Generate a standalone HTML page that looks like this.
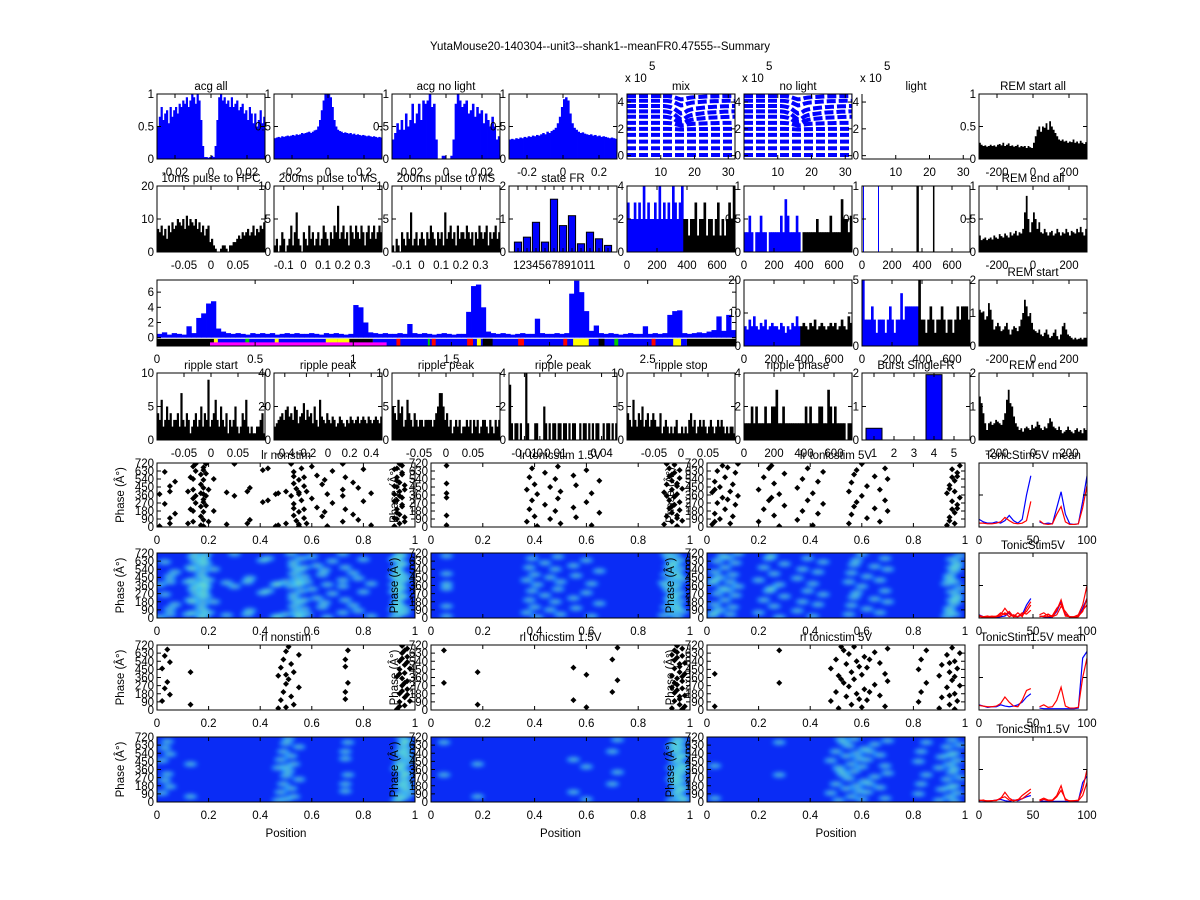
<!DOCTYPE html>
<html><head><meta charset="utf-8"><style>
html,body{margin:0;padding:0;background:#fff;}
svg{display:block;font-family:"Liberation Sans",sans-serif;font-size:11.5px;}
</style></head><body>
<svg id="fig" width="1200" height="900" viewBox="0 0 1200 900">
<defs>
<filter id="blur" x="-20%" y="-20%" width="140%" height="140%"><feGaussianBlur stdDeviation="2"/></filter>
</defs>
<rect x="0" y="0" width="1200" height="900" fill="#fff"/>
<text x="600" y="50" text-anchor="middle">YutaMouse20-140304--unit3--shank1--meanFR0.47555--Summary</text>
</svg>
<script>
// ---------- data ----------
const acgAll=[0.5,0.65,0.8,0.6,0.7,0.75,0.55,0.8,0.65,0.75,0.8,0.7,0.85,0.8,0.9,0.85,0.95,0.8,0.9,1,0.95,0.85,1,0.9,0.6,0.2,0.03,0.03,0.02,0.03,0.05,0.03,0.2,0.6,0.95,1,0.9,0.95,0.85,0.9,0.8,0.95,0.8,0.85,0.9,0.75,0.8,0.85,0.7,0.75,0.6,0.8,0.7,0.55,0.7,0.5,0.6,0.75,0.55,0.65];
const acgWide=[0.32,0.33,0.34,0.33,0.35,0.34,0.35,0.36,0.35,0.36,0.37,0.36,0.38,0.37,0.38,0.4,0.39,0.4,0.41,0.42,0.4,0.42,0.44,0.45,0.5,0.6,0.75,0.9,1,1,1,0.95,0.8,0.6,0.5,0.45,0.43,0.42,0.4,0.41,0.4,0.39,0.4,0.38,0.39,0.37,0.38,0.37,0.36,0.37,0.36,0.35,0.36,0.35,0.34,0.35,0.34,0.33,0.34,0.33];
const acgNoLight=[0.3,0.4,0.55,0.45,0.6,0.45,0.7,0.5,0.6,0.85,0.55,0.7,0.85,0.6,0.9,0.85,0.9,1,0.8,0.85,0.3,0,0,0.05,0.05,0,0,0.05,0.3,0.85,1,0.9,0.8,0.85,0.9,0.7,0.75,0.85,0.65,0.8,0.7,0.75,0.55,0.7,0.6,0.5,0.65,0.5,0.3,0.35];
const acgWideNoLight=[0.3,0.31,0.3,0.32,0.31,0.33,0.32,0.34,0.33,0.35,0.34,0.36,0.35,0.37,0.36,0.38,0.4,0.38,0.42,0.4,0.43,0.45,0.48,0.55,0.65,0.8,0.92,0.95,0.9,0.7,0.55,0.48,0.45,0.42,0.4,0.41,0.39,0.38,0.37,0.38,0.36,0.37,0.35,0.36,0.34,0.35,0.34,0.33,0.32,0.33,0.32,0.31];
const waveLevels=[4.45,4.1,3.7,3.3,2.9,2.45,2.0,1.55,1.05,0.55,0.05];
const waveDip=[0.25,0.35,0.55,0.6,0.5,0.2,0.05,0,0,0,0];
const waveShape=[0,0,0,0,0,0,0,0,0,0,0,0,0.05,0.15,0.35,0.7,1,0.9,0.6,0.45,0.35,0.3,0.25,0.2,0.15,0.12,0.1,0.08,0.05,0.03,0.02,0,0];
const pulse10=[7,6,8,5,7,4,8,6,9,7,8,10,9,8,10,7,11,8,10,9,8,10,7,9,6,8,5,7,8,3,4,2,1,0,0,1,2,2,1,0,2,2,3,3,4,5,4,6,5,6,7,5,6,8,5,7,6,8,7,9];
const pulse200a=[1,2,0,1,3,2,0,1,2,4,1,3,6,2,1,0,3,2,1,4,2,3,1,2,3,1,2,4,3,2,1,3,2,4,3,7,2,3,4,2,3,1,4,3,2,4,3,2,4,3,1,3,4,2,3,4,2,3,4,3];
const pulse200b=[1,0,2,1,0,3,2,1,3,2,6,1,2,3,1,2,3,2,1,3,2,4,3,2,1,3,2,3,1,6,2,3,4,2,3,1,4,2,3,3,2,4,3,2,3,1,3,2,4,3,2,3,4,1,3,2,3,4,2,3];
const stateFR=[0.3,0.45,0.9,0.3,1.6,0.8,1.1,0.25,0.6,0.4,0.2];
const frMix=[3,2,2,3,2,3,2,4,2,3,2,2,3,2,4,2,3,2,3,2,4,3,2,3,4,2,2,1,2,2,3,1,2,2,3,1,2,2,1,2,3,1,2,1,2,3,2,4];
const frNoLight=[0.3,0.3,0.55,0.3,0,0.3,0.3,0.55,0.3,0.3,0,0.3,0.3,0.3,0.3,0.3,0.55,0.3,0.8,0.55,0.3,0.3,0.3,0.55,0.3,0,0.3,0.3,0.3,0.3,0.3,0.3,0.5,0.3,0.3,0.3,0.3,0.3,0.55,0.3,0.3,0.3,0.3,0.8,0.5,0.5,0.3,0.55];
const lightBlueT=[10,110];
const lightBlackT=[368,374,478];
const remStartAll=[0.25,0.22,0.2,0.21,0.19,0.2,0.22,0.2,0.21,0.19,0.22,0.23,0.21,0.25,0.2,0.22,0.24,0.2,0.21,0.19,0.2,0.22,0.18,0.2,0.19,0.2,0.17,0.2,0.18,0.17,0.25,0.35,0.45,0.5,0.42,0.5,0.48,0.55,0.45,0.58,0.5,0.45,0.4,0.35,0.3,0.28,0.3,0.27,0.28,0.25,0.27,0.26,0.3,0.25,0.27,0.24,0.28,0.25,0.23,0.26];
const remEndAll=[0.25,0.18,0.2,0.22,0.18,0.2,0.22,0.19,0.25,0.22,0.2,0.27,0.24,0.22,0.28,0.25,0.22,0.3,0.25,0.28,0.32,0.25,0.3,0.28,0.35,0.6,0.85,0.5,0.3,0.45,0.6,0.5,0.35,0.45,0.3,0.28,0.35,0.3,0.25,0.3,0.32,0.25,0.28,0.35,0.3,0.25,0.3,0.28,0.35,0.3,0.25,0.32,0.3,0.28,0.35,0.3,0.38,0.3,0.25,0.35];
const remStart=[1.1,1.0,1.05,0.8,0.9,1.3,1.1,0.8,0.5,0.6,0.7,0.6,0.45,0.5,0.6,0.7,0.5,0.35,0.5,0.6,0.55,0.45,0.6,0.8,1.0,1.4,1.2,0.9,1.0,0.7,0.5,0.45,0.4,0.5,0.35,0.3,0.4,0.5,0.35,0.25,0.3,0.4,0.5,0.3,0.2,0.35,0.6,0.7,0.5,0.35,0.3,0.25,0.2,0.25,0.2,0.22,0.25,0.2,0.25,0.25];
const remEnd=[1.3,1.1,0.8,0.5,0.3,0.5,0.55,0.45,0.5,0.6,0.55,0.5,0.45,0.6,0.8,1.2,1.5,1.1,1.0,0.7,0.5,0.4,0.3,0.35,0.25,0.35,0.4,0.35,0.3,0.45,0.35,0.4,0.55,0.45,0.35,0.3,0.4,0.35,0.5,0.65,0.55,0.4,0.35,0.3,0.4,0.3,0.2,0.25,0.3,0.4,0.3,0.25,0.2,0.3,0.35,0.25,0.3,0.2,0.35,0.3];
const frTime=[0.5,0.7,0.4,0.6,0.5,0.4,1.5,0.6,2.6,3.2,4.5,4.8,1.2,0.8,0.6,0.5,0.6,0.5,0.4,0.6,0.5,0.6,0.5,0.6,0.4,0.5,0.6,0.5,0.6,0.5,0.5,0.6,0.5,0.4,0.6,0.5,0.6,0.5,0.4,0.5,4.3,4.0,2.0,0.7,0.6,0.5,0.6,0.5,0.5,0.6,0.5,1.8,0.6,0.5,0.6,0.5,0.4,0.5,0.6,0.5,0.4,0.5,0.5,3.4,6.8,7.0,4.0,0.8,0.6,0.5,0.6,0.5,0.4,0.5,0.6,0.5,0.5,2.5,0.6,0.5,0.5,0.6,0.5,0.6,5.8,7.5,6.0,3.5,0.9,1.6,0.6,0.5,0.6,0.5,0.4,0.5,0.6,0.5,0.5,1.5,0.5,0.6,0.5,0.6,3.0,3.5,3.6,0.6,0.5,0.6,0.7,0.6,0.8,1.0,2.8,0.9,3.0,1.0];
const stateSegStart=[0,0.3,0.88,1.1,2.7];
const stateSegEnd=[0.3,0.88,1.1,2.7,2.95];
const stateSegColor=['#000','#00f','#000','#00f','#000'];
const stateMarkT=[0.29,0.45,0.6,0.86,0.92,1.22,1.38,1.4,1.58,1.63,1.66,1.84,2.07,2.12,2.17,2.25,2.33,2.52,2.63];
const stateMarkW=[0.02,0.02,0.02,0.06,0.06,0.02,0.01,0.02,0.03,0.02,0.05,0.03,0.02,0.06,0.03,0.03,0.02,0.02,0.04];
const stateMarkColor=['#ff0','#0c0','#ff0','#ff0','#ff0','#f00','#0c0','#f00','#f00','#ff0','#000','#f00','#f00','#ff0','#ff0','#000','#0c0','#f00','#ff0'];
const frTime20=[6,5,8,6,9,6,5,7,6,8,5,6,7,6,6,5,7,6,4,6,5,7,6,9,6,6,7,6,5,7,6,8,5,6,7,6,5,6,7,6,7,5,6,8,6,5,9,7];
const frTime5=[5,2,2,2,3,2,1,2,2,2,1,2,3,2,1,2,2,4,2,3,3,3,3,3,3,5,2,2,1,2,3,2,1,2,2,3,2,1,2,2,1,2,3,2,3,3,3,2];
const rippleStart=[4,3,6,2,3,5,3,4,2,3,3,4,2,7,3,2,4,3,1,2,3,4,2,3,5,2,4,3,9,2,3,4,6,3,2,5,3,2,4,1,3,2,3,5,2,1,2,4,3,6,2,1,2,1,1,2,2,3,4,1];
const ripplePeakA=[8,10,12,14,16,12,18,20,14,16,12,20,18,10,14,16,22,12,18,14,16,10,20,12,8,24,14,12,10,16,12,10,14,12,8,10,14,12,10,8,12,10,14,12,10,12,14,10,12,14,12,10,14,12,10,12,14,12,10,14];
const ripplePeakB=[5,4,3,6,4,5,2,3,6,4,3,2,4,3,2,3,3,2,3,3,3,3,2,3,4,5,7,7,5,3,4,2,3,1,2,3,2,3,1,2,2,3,2,3,1,3,2,3,1,2,3,3,2,1,3,2,1,3,2,3];
const ripplePeakC=[3.3,1,0,1,1,0,1,0,0,4,1,0,0,0,1,1,0,0,0,2,1,0,1,0,1,1,0,1,1,0,1,1,0,1,0,1,1,0,0,1,0,1,1,0,1,0,1,0,1,1,0,0,1,0,1,1,0,1,0,1];
const rippleStop=[4,3,2,6,3,2,4,3,5,2,3,4,2,3,4,3,2,2,4,1,2,3,2,1,2,1,2,3,1,1,2,1,2,1,3,4,2,3,1,2,3,2,3,2,1,2,3,2,1,2,3,2,3,2,1,2,1,2,2,1];
const ripplePhase=[1,1,1,2,1,2,1,1,1,2,1,1,2,2,3,1,1,2,1,1,1,1,1,1,1,1,1,2,1,2,1,1,1,2,2,1,1,3,2,1,2,1,1,1,1,0,1,1];
const burstCats=[1,4];
const burstVals=[0.35,1.95];
// rasters: position and phase (0-360, drawn twice)
const lrNonX=[0.01,0.03,0.05,0.05,0.07,0.12,0.13,0.14,0.14,0.15,0.15,0.17,0.17,0.18,0.18,0.18,0.19,0.19,0.18,0.2,0.22,0.27,0.3,0.35,0.36,0.41,0.43,0.46,0.47,0.5,0.52,0.53,0.53,0.54,0.55,0.55,0.56,0.57,0.57,0.58,0.6,0.62,0.64,0.65,0.66,0.68,0.72,0.72,0.73,0.76,0.78,0.8,0.83,0.92,0.92,0.93,0.93,0.94,0.94,0.95,0.95,0.96,0.93,0.94,0.95,0.92,0.17,0.18,0.14,0.53,0.55,0.96,0.93];
const lrNonP=[10,260,100,40,150,40,200,60,320,270,350,120,20,280,80,170,350,240,10,60,180,30,350,40,80,280,300,10,20,40,350,260,130,70,170,10,300,200,100,40,320,220,120,170,10,270,60,350,200,140,80,290,20,10,100,200,300,40,140,250,330,60,160,350,230,290,230,310,180,210,30,110,90];
const lrT15X=[0.06,0.06,0.06,0.37,0.38,0.39,0.4,0.41,0.44,0.46,0.48,0.49,0.5,0.55,0.56,0.6,0.62,0.65,0.9,0.91,0.92,0.92,0.93,0.93,0.94,0.94,0.95,0.95,0.96,0.96,0.97,0.91,0.93,0.95];
const lrT15P=[20,130,330,60,200,300,120,10,250,90,180,320,40,220,110,280,20,160,30,120,210,300,60,160,250,340,10,100,190,280,70,350,230,130];
const lrT5X=[0.02,0.03,0.04,0.05,0.06,0.07,0.09,0.1,0.11,0.12,0.2,0.22,0.24,0.26,0.28,0.3,0.35,0.37,0.39,0.41,0.43,0.45,0.55,0.56,0.58,0.6,0.62,0.65,0.67,0.69,0.7,0.93,0.94,0.95,0.95,0.96,0.96,0.97,0.98,0.94,0.97,0.03,0.08,0.25,0.57];
const lrT5P=[30,150,270,90,330,200,40,120,250,350,60,200,300,130,10,240,80,180,300,20,150,260,40,140,280,350,100,210,60,300,180,20,110,200,290,40,160,250,330,70,210,60,310,330,230];
const rlNonX=[0.02,0.03,0.04,0.05,0.13,0.47,0.48,0.49,0.5,0.51,0.52,0.53,0.55,0.5,0.73,0.73,0.74,0.93,0.94,0.94,0.95,0.95,0.96,0.96,0.97,0.97,0.98,0.95,0.96,0.94,0.97];
const rlNonP=[100,240,310,170,60,20,110,200,290,340,150,60,250,30,120,200,300,10,90,180,270,350,50,140,230,320,100,210,300,40,170];
const rlT15X=[0.05,0.18,0.55,0.6,0.7,0.72,0.93,0.94,0.94,0.95,0.95,0.96,0.96,0.97,0.97,0.98,0.95,0.96,0.94,0.97,0.93,0.98];
const rlT15P=[300,60,110,30,200,330,20,100,190,280,350,60,150,240,320,40,220,120,300,10,250,160];
const rlT5X=[0.03,0.28,0.48,0.5,0.51,0.53,0.54,0.55,0.56,0.57,0.58,0.6,0.61,0.62,0.65,0.67,0.69,0.7,0.82,0.83,0.85,0.9,0.91,0.93,0.94,0.95,0.96,0.97,0.98,0.52,0.59,0.63,0.94,0.96];
const rlT5P=[40,300,100,200,20,300,150,260,60,340,180,30,230,110,280,160,40,320,90,200,300,20,140,250,60,330,180,100,270,340,120,200,160,10];
const xStep=[0,4,8,12,16,20,24,28,32,36,40,44,48,52,56,60,64,68,72,76,80,84,88,92,96,100];
const m5Blue=[0.12,0.08,0.06,0.06,0.08,0.06,0.1,0.18,0.1,0.06,0.12,0.5,0.8,null,0.08,0.05,0.06,0.05,0.3,0.55,0.2,0.05,0.04,0.05,0.4,0.8];
const m5Red=[0.06,0.06,0.05,0.05,0.06,0.08,0.15,0.1,0.06,0.05,0.06,0.1,0.4,null,0.1,0.05,0.04,0.05,0.2,0.32,0.08,0.04,0.04,0.05,0.3,0.65];
const t5Blue=[0.05,0.02,0.01,0.02,0.01,0.02,0.03,0.08,0.03,0.02,0.05,0.2,0.3,null,0.03,0.02,0.01,0.02,0.1,0.25,0.06,0.02,0.01,0.03,0.15,0.3];
const t5Red1=[0.04,0.02,0.01,0.02,0.03,0.05,0.15,0.06,0.02,0.02,0.05,0.1,0.2,null,0.05,0.08,0.03,0.02,0.12,0.28,0.05,0.02,0.02,0.05,0.2,0.5];
const t5Red2=[0.02,0.02,0.03,0.01,0.02,0.08,0.05,0.1,0.02,0.08,0.02,0.15,0.25,null,0.02,0.03,0.06,0.02,0.05,0.18,0.1,0.01,0.02,0.03,0.1,0.3];
const t5Red3=[0.03,0.01,0.02,0.03,0.02,0.03,0.08,0.02,0.05,0.02,0.08,0.06,0.12,null,0.03,0.02,0.02,0.04,0.15,0.22,0.03,0.02,0.01,0.02,0.12,0.2];
const m15Blue=[0.08,0.06,0.04,0.05,0.05,0.08,0.06,0.05,0.06,0.08,0.12,0.2,0.25,null,0.03,0.02,0.02,0.02,0.02,0.02,0.02,0.02,0.02,0.03,0.8,0.9];
const m15Red=[0.07,0.06,0.05,0.05,0.06,0.1,0.2,0.12,0.06,0.05,0.15,0.3,0.33,null,0.05,0.08,0.04,0.05,0.15,0.35,0.06,0.03,0.03,0.04,0.5,0.8];
const t15Blue=[0.02,0.02,0.01,0.02,0.03,0.04,0.02,0.01,0.03,0.02,0.05,0.08,0.1,null,0.02,0.01,0.01,0.01,0.01,0.01,0.01,0.01,0.01,0.02,0.3,0.4];
const t15Red1=[0.03,0.02,0.02,0.02,0.03,0.05,0.15,0.06,0.02,0.03,0.1,0.15,0.2,null,0.03,0.06,0.03,0.03,0.1,0.25,0.03,0.02,0.02,0.03,0.2,0.5];
const t15Red2=[0.02,0.03,0.01,0.02,0.02,0.06,0.08,0.03,0.02,0.04,0.05,0.1,0.15,null,0.02,0.04,0.02,0.02,0.08,0.18,0.05,0.01,0.02,0.02,0.1,0.3];
const phaseTicks=[0,90,180,270,360,450,540,630,720];
const posTicks=[0,0.2,0.4,0.6,0.8,1];

// ---------- helpers ----------
const NS='http://www.w3.org/2000/svg';
const svg=document.getElementById('fig');
function mk(t,a,p){const e=document.createElementNS(NS,t);for(const k in a)e.setAttribute(k,a[k]);(p||svg).appendChild(e);return e;}
let clipId=0;
function panel(name,x,y,w,h,xl,yl,xt,yt,opt){
  opt=opt||{};
  const g=mk('g',{});
  
  
  const cid='c'+(clipId++);
  const cp=mk('clipPath',{id:cid},g);mk('rect',{x:x,y:y,width:w,height:h},cp);
  const d=mk('g',{'clip-path':'url(#'+cid+')'},g);
  const P={g,d,x,y,w,h,xl,yl,xt,yt,opt,
    sx:v=>x+(v-xl[0])/(xl[1]-xl[0])*w,
    sy:v=>y+h-(v-yl[0])/(yl[1]-yl[0])*h};
  return P;
}
function finish(P,title){
  const {g,x,y,w,h,opt}=P;
  if(opt.open){
    const l=mk('path',{d:`M${x} ${y} V${y+h} H${x+w}`,stroke:'#000',fill:'none'},g);
    
    
  } else {
    const f=mk('rect',{x:x,y:y,width:w,height:h,fill:'none',stroke:'#000','stroke-width':1},g);
    
    
  }
  P.xt.forEach(v=>{
    const px=P.sx(v);
    mk('line',{x1:px,x2:px,y1:y+h,y2:y+h-4,stroke:'#000'},g);
    if(!opt.open) mk('line',{x1:px,x2:px,y1:y,y2:y+4,stroke:'#000'},g);
    if(!opt.noXLabels){
      const t=mk('text',{x:px,y:y+h+17,'text-anchor':'middle'},g);
      
      
      t.textContent=String(v).replace('0.','0.').replace(/^-0\./,'-0.');
    }
  });
  P.yt.forEach(v=>{
    const py=P.sy(v);
    mk('line',{x1:x,x2:x+4,y1:py,y2:py,stroke:'#000'},g);
    if(!opt.open) mk('line',{x1:x+w,x2:x+w-4,y1:py,y2:py,stroke:'#000'},g);
    if(!opt.noYLabels){
      const t=mk('text',{x:x-3,y:py+4,'text-anchor':'end'},g);
      
      
      t.textContent=String(v);
    }
  });
  if(title){
    const t=mk('text',{x:x+w/2,y:y-4,'text-anchor':'middle'},g);
    
    
    t.textContent=title;
  }
  if(opt.ylabel){
    const t=mk('text',{x:0,y:0,'text-anchor':'middle',transform:`translate(${x-33},${y+h/2}) rotate(-90)`},g);
    
    
    t.textContent=opt.ylabel;
  }
  if(opt.xlabel){
    const t=mk('text',{x:x+w/2,y:y+h+35,'text-anchor':'middle'},g);
    
    
    t.textContent=opt.xlabel;
  }
}
function bars(P,vals,colorFor,stroke){
  const n=vals.length,bw=(P.xl[1]-P.xl[0])/n;
  vals.forEach((v,i)=>{
    const x0=P.sx(P.xl[0]+i*bw),x1=P.sx(P.xl[0]+(i+1)*bw);
    const y0=P.sy(Math.max(v,P.yl[0])),yb=P.sy(Math.max(0,P.yl[0]));
    const r=mk('rect',{x:x0,y:y0,width:x1-x0+0.4,height:Math.max(0,yb-y0),fill:colorFor(i)},P.d);
    
    
  });
}
function area(P,vals,color){
  const n=vals.length,bw=(P.xl[1]-P.xl[0])/n;
  let pts=`${P.sx(P.xl[0])},${P.sy(0)} `;
  vals.forEach((v,i)=>{pts+=`${P.sx(P.xl[0]+i*bw)},${P.sy(v)} ${P.sx(P.xl[0]+(i+1)*bw)},${P.sy(v)} `;});
  pts+=`${P.sx(P.xl[1])},${P.sy(0)}`;
  const p=mk('polygon',{points:pts,fill:color},P.d);
  
  
}
function line(P,xs,ys,color,name){
  let d='',pen=false;
  ys.forEach((v,i)=>{ if(v===null){pen=false;return;} d+=(pen?'L':'M')+P.sx(xs[i])+' '+P.sy(v)+' '; pen=true;});
  const p=mk('path',{d:d,stroke:color,fill:'none','stroke-width':1.2},P.d);
  
  
}
function raster(P,xs,ps){
  xs.forEach((xv,i)=>{
    [0,360].forEach(off=>{
      const cx=P.sx(xv),cy=P.sy(ps[i]+off);
      const m=mk('path',{d:`M${cx-3} ${cy}L${cx} ${cy-3}L${cx+3} ${cy}L${cx} ${cy+3}Z`,fill:'#000'},P.d);
      
      
    });
  });
}
function heat(P,xs,ps){
  const bg=mk('rect',{x:P.x,y:P.y,width:P.w,height:P.h,fill:'#0a2cf5'},P.d);
  
  
  const g1=mk('g',{filter:'url(#blur)'},P.d);
  xs.forEach((xv,i)=>{[0,360].forEach(off=>{
    const e=mk('ellipse',{cx:P.sx(xv),cy:P.sy(ps[i]+off),rx:7,ry:3,fill:'#38d8ff','fill-opacity':0.6},g1);
    
    
  });});
  xs.forEach((xv,i)=>{[0,360].forEach(off=>{
    const e=mk('ellipse',{cx:P.sx(xv),cy:P.sy(ps[i]+off),rx:3,ry:1.6,fill:'#e8ff20','fill-opacity':0.25},g1);
    
    
  });});
}
function sci(x,y){
  const t=mk('text',{x:x,y:y});
  
  
  t.textContent='x 10';
  const s=mk('text',{x:x+24,y:y-12});
  
  
  s.textContent='5';
}

// ---------- layout ----------
const C=[157,274,392,509,627,744,862,979],W=108;
const B='#0000ff',K='#000';
let P;
// row 1
const r1=94,h1=65;
P=panel('acg-all',C[0],r1,W,h1,[-0.03,0.03],[0,1],[-0.02,0,0.02],[0,0.5,1]);bars(P,acgAll,()=>B);finish(P,'acg all');
P=panel('acg-wide',C[1],r1,W,h1,[-0.3,0.3],[0,1],[-0.2,0,0.2],[0,0.5,1]);bars(P,acgWide,()=>B);finish(P,'');
P=panel('acg-no-light',C[2],r1,W,h1,[-0.03,0.03],[0,1],[-0.02,0,0.02],[0,0.5,1]);bars(P,acgNoLight,()=>B);finish(P,'acg no light');
P=panel('acg-wide-no-light',C[3],r1,W,h1,[-0.3,0.3],[0,1],[-0.2,0,0.2],[0,0.5,1]);bars(P,acgWideNoLight,()=>B);finish(P,'');
function waves(P){
  waveLevels.forEach((lv,k)=>{
    const ys=waveShape.map(s=>lv-s*waveDip[k]);
    const xs=waveShape.map((s,i)=>i);
    let d='';ys.forEach((v,i)=>{d+=(i?'L':'M')+P.sx(xs[i])+' '+P.sy(v)+' ';});
    const p=mk('path',{d:d,stroke:B,'stroke-width':4,fill:'none','stroke-dasharray':'9 3'},P.d);
    
    
  });
}
P=panel('waveform-mix',C[4],r1,W,h1,[0,32],[-0.25,4.6],[10,20,30],[0,2,4]);waves(P);finish(P,'mix');sci(C[4]-2,r1-12);
P=panel('waveform-no-light',C[5],r1,W,h1,[0,32],[-0.25,4.6],[10,20,30],[0,2,4]);waves(P);finish(P,'no light');sci(C[5]-2,r1-12);
P=panel('waveform-light',C[6],r1,W,h1,[0,32],[-0.25,4.6],[10,20,30],[0,2,4],{open:true});finish(P,'light');sci(C[6]-2,r1-12);
P=panel('rem-start-all',C[7],r1,W,h1,[-300,300],[0,1],[-200,0,200],[0,0.5,1]);area(P,remStartAll,K);finish(P,'REM start all');
// row 2
const r2=186,h2=66;
P=panel('pulse-10ms-hpc',C[0],r2,W,h2,[-0.1,0.1],[0,20],[-0.05,0,0.05],[0,10,20]);bars(P,pulse10,()=>K);finish(P,'10ms pulse to HPC');
P=panel('pulse-200ms-ms-a',C[1],r2,W,h2,[-0.15,0.4],[0,10],[-0.1,0,0.1,0.2,0.3],[0,5,10]);bars(P,pulse200a,()=>K);finish(P,'200ms pulse to MS');
P=panel('pulse-200ms-ms-b',C[2],r2,W,h2,[-0.15,0.4],[0,10],[-0.1,0,0.1,0.2,0.3],[0,5,10]);bars(P,pulse200b,()=>K);finish(P,'200ms pulse to MS');
P=panel('state-fr',C[3],r2,W,h2,[0,12],[0,2],[1,2,3,4,5,6,7,8,9,10,11],[0,1,2],{noXLabels:true});
stateFR.forEach((v,i)=>{const r=mk('rect',{x:P.sx(i+0.6),y:P.sy(v),width:P.sx(1.8)-P.sx(1),height:P.sy(0)-P.sy(v),fill:B,stroke:K},P.d);});
finish(P,'state FR');
{const t=mk('text',{x:C[3]+4,y:r2+h2+17});t.textContent='1234567891011';}
P=panel('fr-time-mix',C[4],r2,W,h2,[0,720],[0,4],[0,200,400,600],[0,2,4]);bars(P,frMix,i=>i<25?B:K);finish(P,'');
P=panel('fr-time-no-light',C[5],r2,W,h2,[0,720],[0,1],[0,200,400,600],[0,0.5,1]);bars(P,frNoLight,i=>i<25?B:K);finish(P,'');
P=panel('fr-time-light',C[6],r2,W,h2,[0,720],[0,1],[0,200,400,600],[0,0.5,1]);
lightBlueT.forEach(t=>{const l=mk('line',{x1:P.sx(t),x2:P.sx(t),y1:P.y,y2:P.y+P.h,stroke:B},P.d);});
lightBlackT.forEach(t=>{const l=mk('line',{x1:P.sx(t),x2:P.sx(t),y1:P.y,y2:P.y+P.h,stroke:K,'stroke-width':1.5},P.d);});
finish(P,'');
P=panel('rem-end-all',C[7],r2,W,h2,[-300,300],[0,1],[-200,0,200],[0,0.5,1]);area(P,remEndAll,K);finish(P,'REM end all');
// row 3
const r3=280,h3=66;
P=panel('fr-over-time',C[0],r3,736-C[0],h3,[0,2.95],[-1.1,7.6],[0,0.5,1,1.5,2,2.5],[0,2,4,6]);
bars(P,frTime,()=>B);
stateSegStart.forEach((s,i)=>{const r=mk('rect',{x:P.sx(s),y:P.sy(-0.15),width:P.sx(stateSegEnd[i])-P.sx(s),height:P.sy(-1.1)-P.sy(-0.15),fill:stateSegColor[i]},P.d);});
stateMarkT.forEach((s,i)=>{const r=mk('rect',{x:P.sx(s),y:P.sy(-0.15),width:P.sx(s+stateMarkW[i])-P.sx(s),height:P.sy(-1.1)-P.sy(-0.15),fill:stateMarkColor[i]},P.d);});
{const r=mk('rect',{x:P.sx(0.27),y:P.sy(-0.62),width:P.sx(1.17)-P.sx(0.27),height:P.sy(-1.1)-P.sy(-0.62),fill:'#ff00ff'},P.d);}
finish(P,'');
P=panel('fr-time-20',C[5],r3,W,h3,[0,720],[0,20],[0,200,400,600],[0,10,20]);bars(P,frTime20,i=>i<25?B:K);finish(P,'');
P=panel('fr-time-5',C[6],r3,W,h3,[0,720],[0,5],[0,200,400,600],[0,5]);bars(P,frTime5,i=>i<25?B:K);finish(P,'');
P=panel('rem-start',C[7],r3,W,h3,[-300,300],[0,2],[-200,0,200],[0,1,2]);area(P,remStart,K);finish(P,'REM start');
// row 4
const r4=373,h4=67;
P=panel('ripple-start',C[0],r4,W,h4,[-0.1,0.1],[0,10],[-0.05,0,0.05],[0,5,10]);bars(P,rippleStart,()=>K);finish(P,'ripple start');
P=panel('ripple-peak-a',C[1],r4,W,h4,[-0.5,0.5],[0,40],[-0.4,-0.2,0,0.2,0.4],[0,20,40]);bars(P,ripplePeakA,()=>K);finish(P,'ripple peak');
P=panel('ripple-peak-b',C[2],r4,W,h4,[-0.1,0.1],[0,10],[-0.05,0,0.05],[0,5,10]);bars(P,ripplePeakB,()=>K);finish(P,'ripple peak');
P=panel('ripple-peak-c',C[3],r4,W,h4,[-0.02,0.05],[0,4],[-0.01,0,0.01,0.04],[0,2,4]);bars(P,ripplePeakC,()=>K);finish(P,'ripple peak');
P=panel('ripple-stop',C[4],r4,W,h4,[-0.1,0.1],[0,10],[-0.05,0,0.05],[0,5,10]);bars(P,rippleStop,()=>K);finish(P,'ripple stop');
P=panel('ripple-phase',C[5],r4,W,h4,[0,720],[0,4],[0,200,400,600],[0,2,4]);bars(P,ripplePhase,()=>K);finish(P,'ripple phase');
P=panel('burst-single-fr',C[6],r4,W,h4,[0.4,5.8],[0,2],[1,2,3,4,5],[0,1,2]);
burstCats.forEach((c,i)=>{const r=mk('rect',{x:P.sx(c-0.4),y:P.sy(burstVals[i]),width:P.sx(0.8)-P.sx(0),height:P.sy(0)-P.sy(burstVals[i]),fill:B,stroke:K},P.d);});
finish(P,'Burst SingleFR');
P=panel('rem-end',C[7],r4,W,h4,[-300,300],[0,2],[-200,0,200],[0,1,2]);area(P,remEnd,K);finish(P,'REM end');
// rows 5-8
const RX=[157,431,707],RW=[258,259,258];
const PH='Phase (Â°)';
const rows=[[463,64],[553,65],[645,65],[737,65]];
const rasterData=[[lrNonX,lrNonP,'lr nonstim'],[lrT15X,lrT15P,'lr tonicstim 1.5V'],[lrT5X,lrT5P,'lr tonicstim 5V']];
const rasterData2=[[rlNonX,rlNonP,'rl nonstim'],[rlT15X,rlT15P,'rl tonicstim 1.5V'],[rlT5X,rlT5P,'rl tonicstim 5V']];
[[rasterData,0],[rasterData2,2]].forEach(([ds,ri])=>{
  ds.forEach((dd,j)=>{
    let Q=panel('raster-'+dd[2].replace(/[ .]/g,'-'),RX[j],rows[ri][0],RW[j],rows[ri][1],[0,1],[0,720],posTicks,phaseTicks,{ylabel:PH});
    raster(Q,dd[0],dd[1]);finish(Q,dd[2]);
    Q=panel('heatmap-'+dd[2].replace(/[ .]/g,'-'),RX[j],rows[ri+1][0],RW[j],rows[ri+1][1],[0,1],[0,720],posTicks,phaseTicks,{ylabel:PH,xlabel:ri===2?'Position':''});
    heat(Q,dd[0],dd[1]);finish(Q,'');
  });
});
P=panel('tonicstim5v-mean',C[7],rows[0][0],W,rows[0][1],[0,100],[0,1],[0,50,100],[0,0.5,1],{noYLabels:true});
line(P,xStep,m5Blue,B,'mean-line-blue');line(P,xStep,m5Red,'#f00','mean-line-red');finish(P,'TonicStim5V mean');
P=panel('tonicstim5v-trials',C[7],rows[1][0],W,rows[1][1],[0,100],[0,1],[0,50,100],[0,0.5,1],{noYLabels:true});
line(P,xStep,t5Blue,B,'trial-line-blue');line(P,xStep,t5Red1,'#f00','trial-line-red');line(P,xStep,t5Red2,'#f00','trial-line-red');line(P,xStep,t5Red3,'#f00','trial-line-red');finish(P,'TonicStim5V');
P=panel('tonicstim1p5v-mean',C[7],rows[2][0],W,rows[2][1],[0,100],[0,1],[0,50,100],[0,0.5,1],{noYLabels:true});
line(P,xStep,m15Blue,B,'mean-line-blue');line(P,xStep,m15Red,'#f00','mean-line-red');finish(P,'TonicStim1.5V mean');
P=panel('tonicstim1p5v-trials',C[7],rows[3][0],W,rows[3][1],[0,100],[0,1],[0,50,100],[0,0.5,1],{noYLabels:true});
line(P,xStep,t15Blue,B,'trial-line-blue');line(P,xStep,t15Red1,'#f00','trial-line-red');line(P,xStep,t15Red2,'#f00','trial-line-red');finish(P,'TonicStim1.5V');
</script>
</body></html>
